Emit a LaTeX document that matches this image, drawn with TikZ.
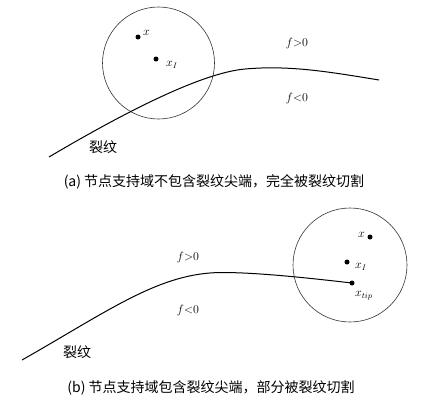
\documentclass[tikz,border=0pt]{standalone}
\usepackage{fontspec}
\newfontfamily\cjk{Noto Sans CJK SC}
\begin{document}
\begin{tikzpicture}[x=1pt,y=-1pt,
  support/.style={draw=black!80,line width=0.6pt},
  crack/.style={draw=black,line width=1pt},
  dot/.style={circle,fill=black,inner sep=0pt,minimum size=5pt},
  lab/.style={inner sep=0pt,font=\fontsize{12}{13}\selectfont},
  cjklab/.style={inner sep=0pt,font=\cjk\fontsize{14}{16}\selectfont},
  caption/.style={inner sep=0pt,font=\cjk\fontsize{14}{16}\selectfont}]
\useasboundingbox (0,0) rectangle (446,407);
% ---------- (a)
\node[support,circle,minimum size=112pt,inner sep=0pt] (ca) at (158.5,63) {};
\node[dot] (xa) at (138,37) {};
\node[lab,anchor=west] (xal) at (143,33) {$x$};
\node[dot] (x1a) at (156,59) {};
\node[lab,anchor=west] (x1al) at (166,65) {$x_I$};
\coordinate (sa) at (49,157);
\coordinate (ma) at (245,69);
\coordinate (ea) at (379,80);
\draw[crack] (sa) .. controls (120,115) and (200,73) .. (ma) .. controls (290,65) and (330,72) .. (ea);
\node[lab] (fpa) at (297,43) {$f{>}0$};
\node[lab] (fna) at (297,98) {$f{<}0$};
\node[cjklab] (lwa) at (103,147) {裂纹};
\node[caption] (capa) at (214,182) {(a) 节点支持域不包含裂纹尖端，完全被裂纹切割};
% ---------- (b)
\node[support,circle,minimum size=114pt,inner sep=0pt] (cb) at (350,265) {};
\node[dot] (xb) at (370,237) {};
\node[lab,anchor=east] (xbl) at (365,235) {$x$};
\node[dot] (x1b) at (347,262) {};
\node[lab,anchor=west] (x1bl) at (355,267) {$x_I$};
\node[dot] (tip) at (352,283) {};
\node[lab,anchor=west] (tipl) at (355,296) {$x_{tip}$};
\coordinate (sb) at (22,360);
\coordinate (mb) at (222,272.5);
\draw[crack] (sb) .. controls (110,310) and (160,272.5) .. (mb) .. controls (255,272.5) and (300,277) .. (tip.center);
\node[lab] (fpb) at (188,257) {$f{>}0$};
\node[lab] (fnb) at (188,310) {$f{<}0$};
\node[cjklab] (lwb) at (77,352) {裂纹};
\node[caption] (capb) at (211,388) {(b) 节点支持域包含裂纹尖端，部分被裂纹切割};
\end{tikzpicture}
\end{document}
